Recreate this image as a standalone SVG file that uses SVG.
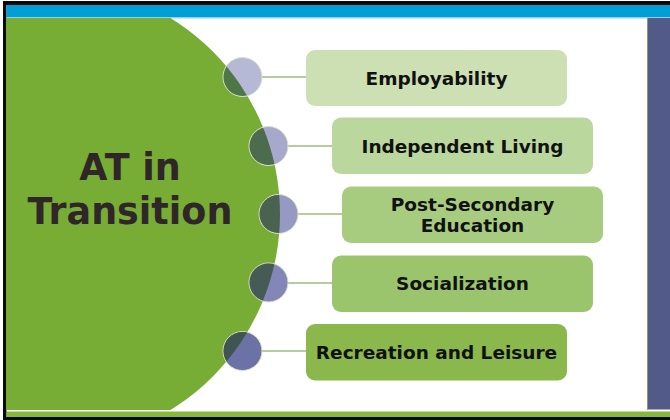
<svg xmlns="http://www.w3.org/2000/svg" width="670" height="420" viewBox="0 0 670 420">
  <defs>
    <clipPath id="area"><rect x="6" y="18" width="642" height="392"/></clipPath>
    <clipPath id="big"><circle cx="50" cy="214" r="230"/></clipPath>
    <style>
      .lbl{font-family:"DejaVu Sans",Verdana,sans-serif;font-weight:bold;font-size:18.5px;fill:#111;text-anchor:middle}
      .title{font-family:"DejaVu Sans",Verdana,sans-serif;font-weight:bold;font-size:36.5px;fill:#30262a;text-anchor:middle}
      .conn{stroke:#b7cc9c;stroke-width:2;fill:none}
      .dot{stroke:#d9e4c4;stroke-width:1}
    </style>
  </defs>
  <!-- frame -->
  <rect x="0" y="0" width="670" height="420" fill="#ffffff"/>
  <rect x="3" y="1" width="667" height="419" fill="#0a0a0a"/>
  <rect x="6.5" y="5" width="663.5" height="412" fill="#ffffff"/>
  <rect x="6.5" y="5" width="663.5" height="12.5" fill="#009fd6"/>
  <rect x="6.5" y="17.5" width="663.5" height="1" fill="#9fd3ea"/>
  <rect x="6.5" y="411.5" width="663.5" height="5.5" fill="#86b83c"/>
  <rect x="647" y="18" width="23" height="391.5" fill="#525a87"/>
  <rect x="647" y="18" width="1" height="391.5" fill="#8e9a6a"/>

  <!-- big green circle -->
  <g id="hub">
    <g clip-path="url(#area)">
      <circle cx="50" cy="214" r="230" fill="#77ad35"/>
    </g>
    <text class="title" x="130" y="179.5">AT in</text>
    <text class="title" x="130" y="223.5">Transition</text>
  </g>

  <!-- connectors -->
  <g id="connectors">
    <line class="conn" x1="261" y1="77" x2="306" y2="77"/>
    <line class="conn" x1="287" y1="146" x2="332" y2="146"/>
    <line class="conn" x1="297" y1="214" x2="342" y2="214"/>
    <line class="conn" x1="287" y1="283" x2="332" y2="283"/>
    <line class="conn" x1="261" y1="351" x2="306" y2="351"/>
  </g>

  <!-- dots -->
  <g id="dot1">
    <circle class="dot" cx="242.5" cy="77" r="19.5" fill="#b6b9d5"/>
    <circle cx="242.5" cy="77" r="19" fill="#4f7646" clip-path="url(#big)"/>
  </g>
  <g id="dot2">
    <circle class="dot" cx="268.5" cy="146" r="19.5" fill="#a6a9cb"/>
    <circle cx="268.5" cy="146" r="19" fill="#4d6b4d" clip-path="url(#big)"/>
  </g>
  <g id="dot3">
    <circle class="dot" cx="278.5" cy="214" r="19.5" fill="#9699c2"/>
    <circle cx="278.5" cy="214" r="19" fill="#4a6350" clip-path="url(#big)"/>
  </g>
  <g id="dot4">
    <circle class="dot" cx="268.5" cy="282.5" r="19.5" fill="#8387b8"/>
    <circle cx="268.5" cy="282.5" r="19" fill="#465b55" clip-path="url(#big)"/>
  </g>
  <g id="dot5">
    <circle class="dot" cx="242.5" cy="351" r="19.5" fill="#6c71a6"/>
    <circle cx="242.5" cy="351" r="19" fill="#3f5552" clip-path="url(#big)"/>
  </g>

  <!-- boxes -->
  <g id="employability">
    <rect x="306" y="50" width="261" height="56" rx="9" fill="#cce0b4"/>
    <text class="lbl" x="436.5" y="84.5">Employability</text>
  </g>
  <g id="independent-living">
    <rect x="332" y="117.5" width="261" height="56.5" rx="9" fill="#bad89d"/>
    <text class="lbl" x="462.5" y="152.5">Independent Living</text>
  </g>
  <g id="post-secondary">
    <rect x="342" y="186.5" width="261" height="56.5" rx="9" fill="#a7cc80"/>
    <text class="lbl" x="472.5" y="210.5">Post-Secondary</text>
    <text class="lbl" x="472.5" y="232">Education</text>
  </g>
  <g id="socialization">
    <rect x="332" y="255.5" width="261" height="56.5" rx="9" fill="#9bc56c"/>
    <text class="lbl" x="462.5" y="290">Socialization</text>
  </g>
  <g id="recreation">
    <rect x="306" y="324" width="261" height="56.5" rx="9" fill="#8ab84d"/>
    <text class="lbl" x="436.5" y="358.5">Recreation and Leisure</text>
  </g>
</svg>
